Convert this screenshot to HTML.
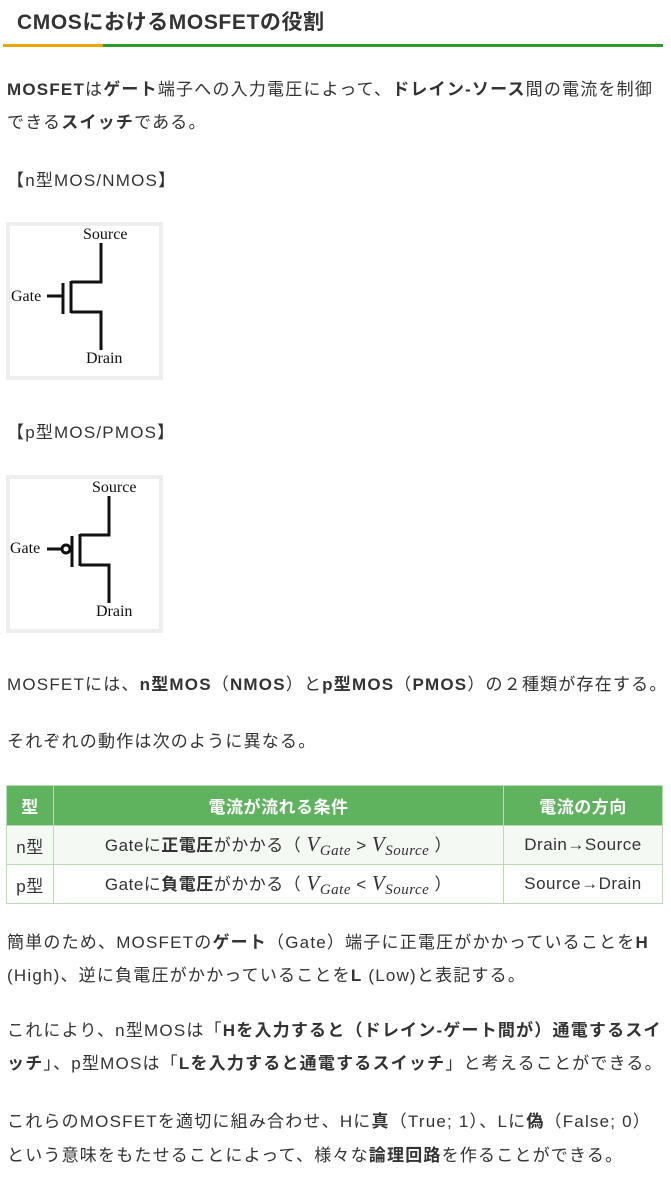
<!DOCTYPE html>
<html><head><meta charset="utf-8"><style>
body{margin:0;width:671px;height:1179px;background:#fff;position:relative;overflow:hidden;font-family:"Liberation Sans","Noto Sans CJK JP",sans-serif;color:#333;}
.t{position:absolute;left:7px;white-space:nowrap;font-size:17px;line-height:24px;letter-spacing:1.2px}
b{font-weight:bold;color:#333}
.box{position:absolute;left:6px;width:149px;height:150px;border:4px solid #eee;background:#fff}
table{position:absolute;left:6px;top:785px;width:657px;border-collapse:collapse;font-size:17px;letter-spacing:0.5px}
td,th{border:1px solid #b9dcb4;text-align:center;padding:0;}
th{background:#5fb35e;color:#fff;height:39px;font-weight:bold}
td{height:38px}
tr.a td{background:#f4faf3}
i.m{font-family:"Liberation Serif",serif;font-size:21px}
i.m sub{font-size:15px;vertical-align:-4px}
</style></head><body>
<div class="t" style="left:17px;top:9px;font-size:21px;font-weight:bold;line-height:28px;letter-spacing:0.6px">CMOSにおけるMOSFETの役割</div>
<div style="position:absolute;left:3px;top:44px;width:100px;height:3px;background:#e8a80c"></div>
<div style="position:absolute;left:103px;top:44px;width:560px;height:3px;background:#2e9a30"></div>
<div class="t" style="top:78px"><b>MOSFET</b>は<b>ゲート</b>端子への入力電圧によって、<b>ドレイン-ソース</b>間の電流を制御</div>
<div class="t" style="top:111px">できる<b>スイッチ</b>である。</div>
<div class="t" style="top:169px">【n型MOS/NMOS】</div>
<div class="box" style="top:222px"></div>
<div class="t" style="top:421px">【p型MOS/PMOS】</div>
<div class="box" style="top:475px"></div>
<svg style="position:absolute;left:0;top:0;z-index:2" width="200" height="700">
<g stroke="#111" stroke-width="3" fill="none">
<polyline points="101,243 101,282 71,282"/><line x1="71" y1="281" x2="71" y2="313"/><polyline points="71,312 101,312 101,350"/>
<line x1="63" y1="283" x2="63" y2="314"/><line x1="47" y1="296" x2="63" y2="296"/>
<polyline points="109,496 109,535 80,535"/><line x1="80" y1="534" x2="80" y2="566"/><polyline points="80,565 109,565 109,603"/>
<line x1="72" y1="536" x2="72" y2="567"/><line x1="47" y1="549" x2="62" y2="549"/><circle cx="66" cy="549" r="4"/>
</g>
<g font-family="Liberation Serif,serif" font-size="16" fill="#111">
<text x="83" y="239">Source</text><text x="11" y="301">Gate</text><text x="86" y="363">Drain</text>
<text x="92" y="492">Source</text><text x="10" y="553">Gate</text><text x="96" y="616">Drain</text>
</g></svg>
<div class="t" style="top:673px">MOSFETには、<b>n型MOS</b>（<b>NMOS</b>）と<b>p型MOS</b>（<b>PMOS</b>）の２種類が存在する。</div>
<div class="t" style="top:730px">それぞれの動作は次のように異なる。</div>
<table>
<tr><th style="width:46px">型</th><th style="width:449px">電流が流れる条件</th><th>電流の方向</th></tr>
<tr class="a"><td>n型</td><td>Gateに<b>正電圧</b>がかかる（ <i class="m">V<sub>Gate</sub></i> &gt; <i class="m">V<sub>Source</sub></i> ）</td><td>Drain→Source</td></tr>
<tr><td>p型</td><td>Gateに<b>負電圧</b>がかかる（ <i class="m">V<sub>Gate</sub></i> &lt; <i class="m">V<sub>Source</sub></i> ）</td><td>Source→Drain</td></tr>
</table>
<div class="t" style="top:931px">簡単のため、MOSFETの<b>ゲート</b>（Gate）端子に正電圧がかかっていることを<b>H</b></div>
<div class="t" style="top:964px">(High)、逆に負電圧がかかっていることを<b>L</b> (Low)と表記する。</div>
<div class="t" style="top:1019px">これにより、n型MOSは「<b>Hを入力すると（ドレイン-ゲート間が）通電するスイ</b></div>
<div class="t" style="top:1052px"><b>ッチ</b>」、p型MOSは「<b>Lを入力すると通電するスイッチ</b>」と考えることができる。</div>
<div class="t" style="top:1110px">これらのMOSFETを適切に組み合わせ、Hに<b>真</b>（True; 1）、Lに<b>偽</b>（False; 0）</div>
<div class="t" style="top:1144px">という意味をもたせることによって、様々な<b>論理回路</b>を作ることができる。</div>
</body></html>
